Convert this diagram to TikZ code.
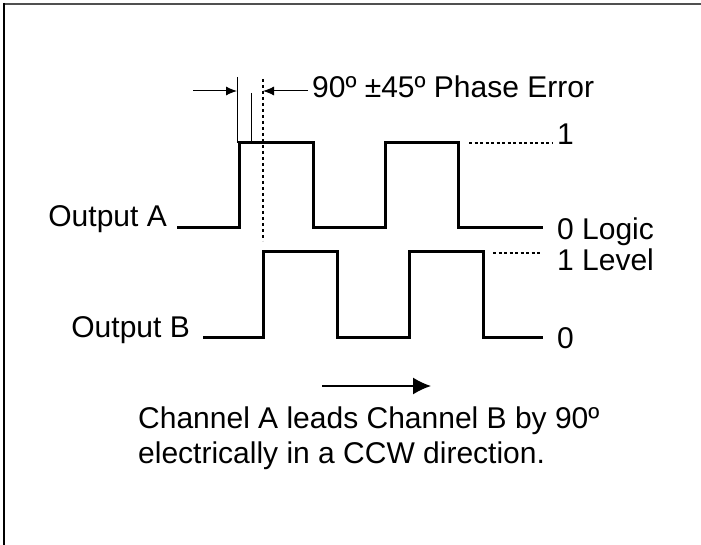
\documentclass[tikz,border=0pt]{standalone}
\usepackage{fontspec}
\setmainfont{Liberation Sans}
\usetikzlibrary{arrows.meta}
\definecolor{framegray}{RGB}{80,80,80}
\begin{document}
\begin{tikzpicture}[x=1pt,y=-1pt,
  wave/.style={line width=3pt,line join=miter},
  thinline/.style={line width=1pt},
  vdots/.style={line width=1.8pt,dash pattern=on 3.5pt off 2.5pt},
  hdots/.style={line width=1.5pt,dash pattern=on 3pt off 2.5pt},
  lbl/.style={inner sep=0pt,font=\fontsize{30}{35}\selectfont},
  smallarrow/.style={line width=1pt,-{Latex[length=11pt,width=9pt]}},
  bigarrow/.style={line width=1.5pt,-{Latex[length=18pt,width=17pt]}}]
\useasboundingbox (0,0) rectangle (701,545);
\fill[white] (0,0) rectangle (701,545);
% frame
\draw[framegray,line width=2pt] (3,4) -- (701,4);
\draw[black,line width=2pt] (4,3) -- (4,545);
% waveform A
\coordinate (a0) at (177,228);
\coordinate (aE) at (543,228);
\draw[wave] (a0) -- (239,228) -- (239,143) -- (313,143) -- (313,228) -- (385,228)
  -- (385,143) -- (458,143) -- (458,228) -- (aE);
% waveform B
\coordinate (b0) at (203,337);
\coordinate (bE) at (543,337);
\draw[wave] (b0) -- (263,337) -- (263,252) -- (337,252) -- (337,337) -- (409,337)
  -- (409,252) -- (483,252) -- (483,337) -- (bE);
% phase error markers
\coordinate (t1top) at (237,77);
\coordinate (t1bot) at (237,143);
\coordinate (t2top) at (251,93);
\coordinate (t2bot) at (251,143);
\draw[thinline] (t1top) -- (t1bot);
\draw[thinline] (t2top) -- (t2bot);
\coordinate (dtop) at (263,79);
\coordinate (dbot) at (263,241);
\draw[vdots] (dtop) -- (dbot);
\coordinate (la) at (193,91);
\coordinate (lat) at (237,91);
\draw[smallarrow] (la) -- (lat);
\coordinate (ra) at (308,91);
\coordinate (rat) at (263,91);
\draw[smallarrow] (ra) -- (rat);
\node[lbl,anchor=base west] (phase) at (312,98) {90º ±45º Phase Error};
% level dotted lines
\coordinate (h1a) at (469,143);
\coordinate (h1b) at (552,143);
\draw[hdots] (h1a) -- (h1b);
\coordinate (h2a) at (493,253);
\coordinate (h2b) at (541,253);
\draw[hdots] (h2a) -- (h2b);
% labels
\node[lbl,anchor=base west] (one1) at (557,145) {1};
\node[lbl,anchor=base west] (zeroA) at (557,240) {0 Logic};
\node[lbl,anchor=base west] (oneB) at (557,271) {1 Level};
\node[lbl,anchor=base west] (zeroB) at (557,348) {0};
\node[lbl,anchor=base east] (outA) at (167,227) {Output A};
\node[lbl,anchor=base east] (outB) at (190,337) {Output B};
% direction arrow
\coordinate (da) at (322,386);
\coordinate (db) at (431,386);
\draw[bigarrow] (da) -- (db);
\node[lbl,anchor=base west] (cap1) at (138,428) {Channel A leads Channel B by 90º};
\node[lbl,anchor=base west] (cap2) at (138,463) {electrically in a CCW direction.};
\end{tikzpicture}
\end{document}
